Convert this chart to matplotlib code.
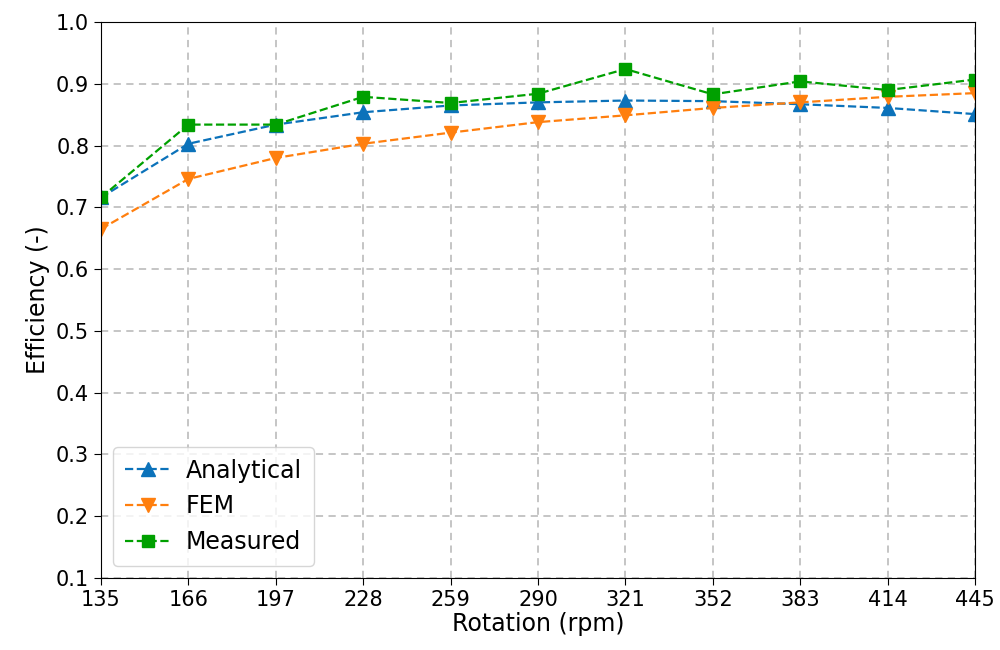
import numpy as np
import matplotlib
matplotlib.use("Agg")
import matplotlib.pyplot as plt

rpm = [135, 166, 197, 228, 259, 290, 321, 352, 383, 414, 445]
analytical = [0.716, 0.803, 0.834, 0.854, 0.865, 0.870, 0.873, 0.872, 0.867, 0.861, 0.851]
fem = [0.665, 0.746, 0.780, 0.803, 0.821, 0.838, 0.849, 0.861, 0.870, 0.879, 0.885]
measured = [0.716, 0.834, 0.834, 0.879, 0.869, 0.884, 0.924, 0.883, 0.904, 0.890, 0.907]

fig = plt.figure(figsize=(10, 6.5), dpi=100)
ax = fig.add_axes([0.101, 0.111, 0.874, 0.855])

ax.plot(rpm, analytical, '--^', color='#0b72ba', ms=10, lw=1.6, label='Analytical')
ax.plot(rpm, fem, '--v', color='#ff7f0e', ms=10, lw=1.6, label='FEM')
ax.plot(rpm, measured, '--s', color='#00a000', ms=9, lw=1.6, label='Measured')

ax.set_xlim(135, 445)
ax.set_ylim(0.1, 1.0)
ax.set_xticks(rpm)
ax.set_yticks(np.arange(0.1, 1.01, 0.1))
ax.tick_params(labelsize=15, length=5)
ax.set_xlabel('Rotation (rpm)', fontsize=17, labelpad=2)
ax.set_ylabel('Efficiency (-)', fontsize=17, labelpad=4)
ax.grid(True, linestyle=(0, (4, 3)), color='#c0c0c0', lw=1.3)
ax.legend(loc='lower left', fontsize=17, handlelength=2.0, handletextpad=0.6,
          borderpad=0.5, labelspacing=0.5)

fig.savefig('out.png', dpi=100)
